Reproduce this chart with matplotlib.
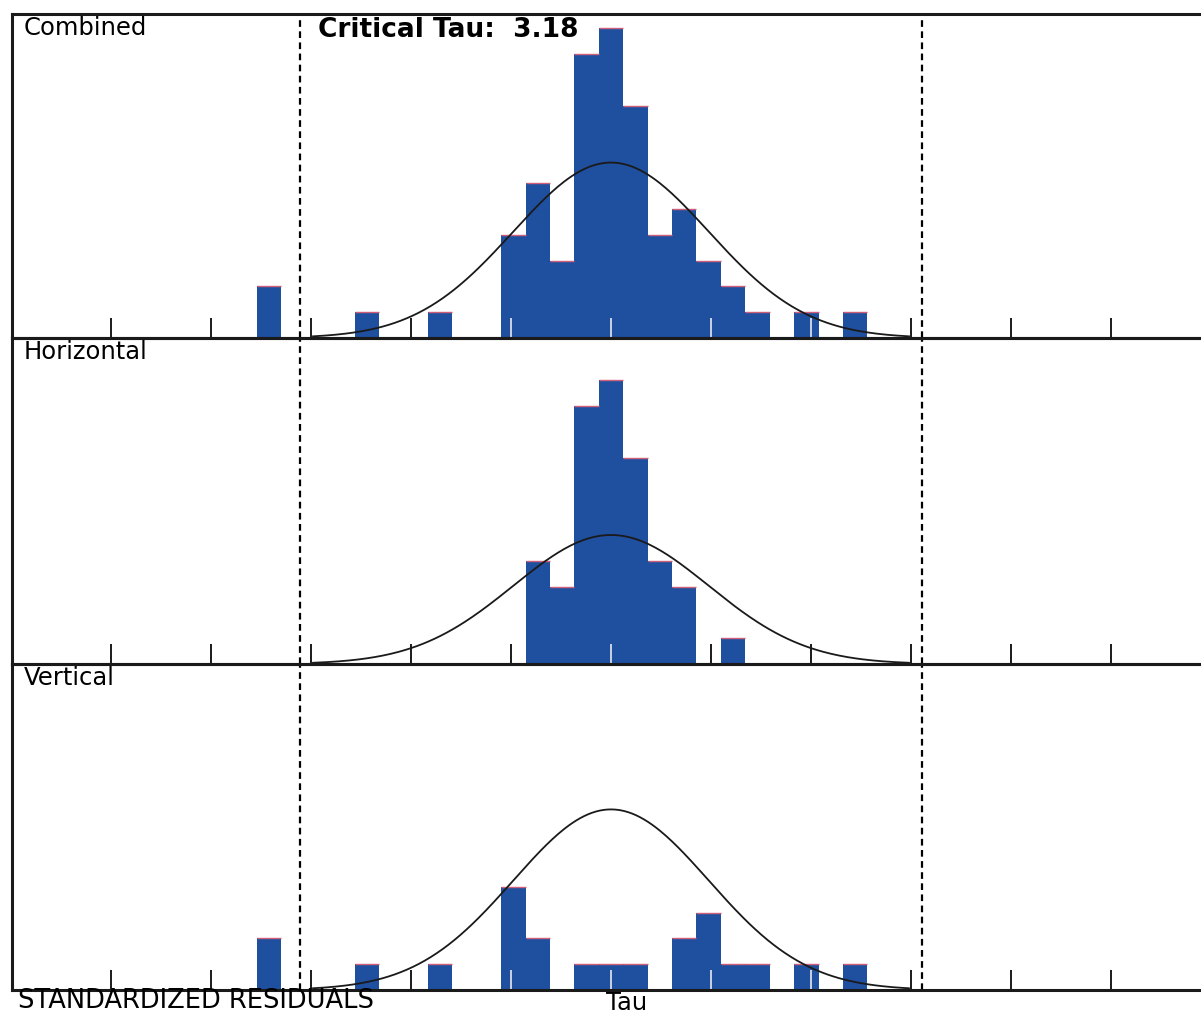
import numpy as np
import matplotlib.pyplot as plt

# histogram bins (tau units, bin width 0.25) and counts per panel
bin_centers = [-3.5, -2.5, -1.75, -1.0, -0.75, -0.5, -0.25, 0.0, 0.25, 0.5, 0.75, 1.0, 1.25, 1.5, 2.0, 2.5]
horizontal = [0, 0, 0, 0, 4, 3, 10, 11, 8, 4, 3, 0, 1, 0, 0, 0]
vertical = [2, 1, 1, 4, 2, 0, 1, 1, 1, 0, 2, 3, 1, 1, 1, 1]
combined = [h + v for h, v in zip(horizontal, vertical)]
bin_width = 0.25

panel_names = ["Combined", "Horizontal", "Vertical"]
panel_counts = [combined, horizontal, vertical]
curve_peaks = [6.8, 5.0, 7.0]   # height of the fitted normal curve (counts)
curve_span = 3.05

crit_tau = 3.18
tick_step = 1.024
tick_positions = [tick_step * k for k in range(-5, 6)]

W, H = 1201, 1019
fig = plt.figure(figsize=(W / 100, H / 100), dpi=100)
plt.rcParams["font.family"] = ["DejaVu Sans"]

left_px = 12
zero_px = 611
px_per_unit = 97.7
xmin = -(zero_px - left_px) / px_per_unit
xmax = (W - zero_px) / px_per_unit
px_per_count = 25.8
edges_px = [14, 338, 664, 990]

bar_color = "#1f4f9f"
line_color = "#1a1a1a"
tick_len_px = 20

for i, (name, counts, peak) in enumerate(zip(panel_names, panel_counts, curve_peaks)):
    top, bot = edges_px[i], edges_px[i + 1]
    ax = fig.add_axes([left_px / W, 1 - bot / H, (W - left_px) / W, (bot - top) / H])
    ax.set_xlim(xmin, xmax)
    ax.set_ylim(0, (bot - top) / px_per_count)
    ax.set_axisbelow(True)

    xs = [c for c, n in zip(bin_centers, counts) if n > 0]
    ns = [n for n in counts if n > 0]
    ax.bar(xs, ns, width=bin_width, color=bar_color, linewidth=0, zorder=1)
    ax.hlines(ns, [x - bin_width / 2 for x in xs], [x + bin_width / 2 for x in xs],
              color="#d0607a", linewidth=1, zorder=1.2)

    # light tick marks where ticks fall inside bars
    tick_len = tick_len_px / px_per_count
    for t in tick_positions:
        for c, n in zip(xs, ns):
            if abs(t - c) <= bin_width / 2:
                ax.vlines(t, 0, min(tick_len, n), color="#e8e8f0", linewidth=1.2, zorder=1.3)

    gx = np.linspace(-curve_span, curve_span, 300)
    ax.plot(gx, peak * np.exp(-gx ** 2 / 2), color=line_color, linewidth=1.3, zorder=2)

    for d in (-crit_tau, crit_tau):
        ax.axvline(d, color="black", linewidth=1.6, linestyle=(0, (3, 2)), zorder=2)

    ax.set_xticks(tick_positions)
    ax.set_yticks([])
    ax.tick_params(axis="x", direction="in", length=tick_len_px * 0.72, width=1.4,
                   color=line_color, labelbottom=False)
    for side in ("left", "top", "bottom"):
        ax.spines[side].set_linewidth(2.2)
        ax.spines[side].set_color(line_color)
    ax.spines["right"].set_visible(False)
    ax.patch.set_alpha(0)

    fig.text((left_px + 12) / W, 1 - (top + 2) / H, name, fontsize=17.5, va="top", ha="left")

fig.text(318 / W, 1 - 17 / H, "Critical Tau:  %.2f" % crit_tau, fontsize=19,
         fontweight="bold", va="top", ha="left")
fig.text(18 / W, 1 - 988 / H, "STANDARDIZED RESIDUALS", fontsize=18.5, va="top", ha="left")
fig.text(606 / W, 1 - 991 / H, "Tau", fontsize=17.5, va="top", ha="left")

fig.savefig("out.png", dpi=100)
